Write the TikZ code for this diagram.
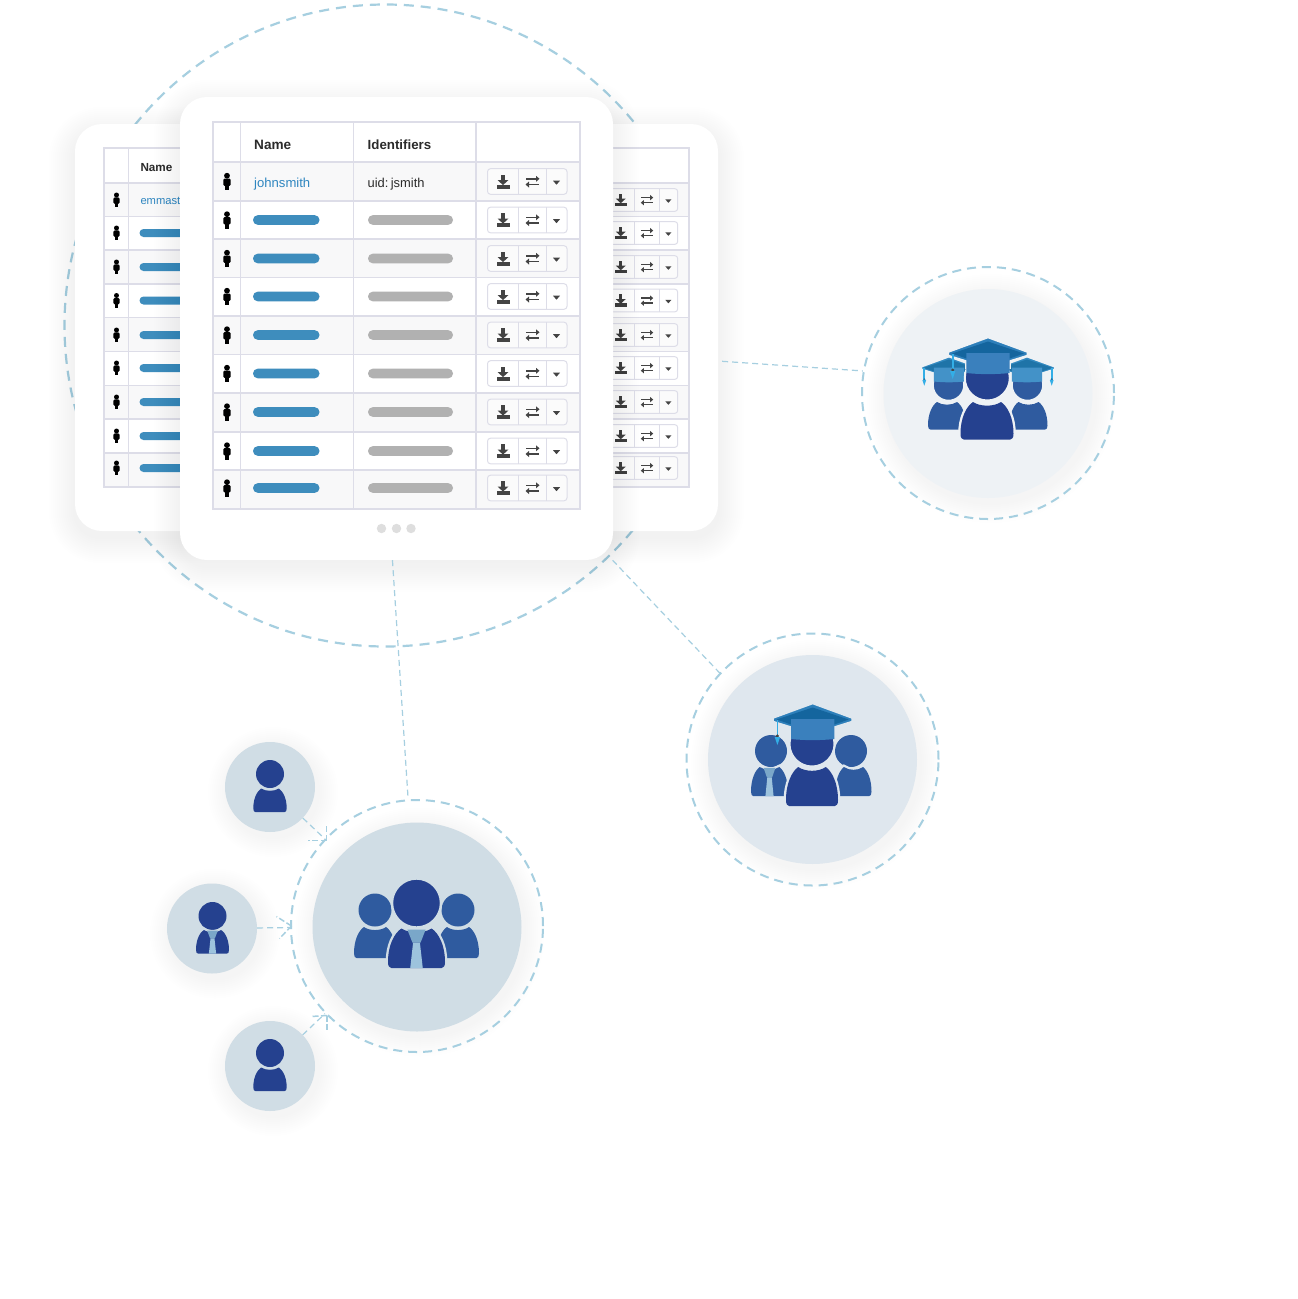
\documentclass[tikz,border=0pt]{standalone}
\usepackage{fontspec}
\setmainfont{Liberation Sans}
\definecolor{dashc}{HTML}{A6CFE0}
\definecolor{gridc}{HTML}{DDDDE8}
\definecolor{rowc}{HTML}{F8F8F9}
\definecolor{barb}{HTML}{3E8DBD}
\definecolor{barg}{HTML}{B1B1B1}
\definecolor{linkc}{HTML}{2F86C0}
\definecolor{txtc}{HTML}{2B2B2B}
\definecolor{iconc}{HTML}{444444}
\definecolor{navy}{HTML}{25418F}
\definecolor{midb}{HTML}{2F5B9F}
\definecolor{collarc}{HTML}{7AA7C9}
\definecolor{tiec}{HTML}{9DC3DD}
\definecolor{bga}{HTML}{D0DDE5}
\definecolor{bgb}{HTML}{DFE7EE}
\definecolor{bgc}{HTML}{EEF2F5}
\definecolor{hatlight}{HTML}{2D7FBA}
\definecolor{hatdark}{HTML}{14659E}
\definecolor{hatcap}{HTML}{3A80BD}
\definecolor{tasselc}{HTML}{33AEE6}
\definecolor{hatlightb}{HTML}{3389C0}
\definecolor{hatdarkb}{HTML}{1F74A8}
\definecolor{hatcapb}{HTML}{4392C8}
\tikzset{
  ringstyle/.style={circle,draw=dashc,line width=2pt,dash pattern=on 9pt off 6pt,minimum size=252pt,inner sep=0pt},
  bigringstyle/.style={circle,draw=dashc,line width=2.2pt,dash pattern=on 10pt off 7pt,minimum size=642pt,inner sep=0pt},
  discstyle/.style={circle,minimum size=209pt,inner sep=0pt},
  smalldisc/.style={circle,fill=bga,minimum size=90pt,inner sep=0pt},
  cardstyle/.style={rectangle,fill=white,rounded corners=27pt,inner sep=0pt},
  linkline/.style={draw=dashc,line width=1.2pt,dash pattern=on 6pt off 4pt},
  barbline/.style={draw=dashc,line width=1.5pt,dash pattern=on 6pt off 2.5pt},
  gridline/.style={draw=gridc,line width=1.1pt},
  headtxt/.style={anchor=base west,inner sep=0pt,text=txtc,font=\fontsize{13.6}{15}\selectfont\bfseries},
  celltxt/.style={anchor=base west,inner sep=0pt,text=txtc,font=\fontsize{12.9}{15}\selectfont},
}
% soft shadows
\newcommand{\softrect}[5]{%
  \foreach \sz in {2,4,...,26}{%
    \pgfmathsetmacro{\rr}{#5+\sz}%
    \fill[black,fill opacity=.0055,rounded corners=\rr pt] (#1-\sz,#2-\sz+9) rectangle (#3+\sz,#4+\sz+6);
  }}
\newcommand{\softdisc}[3]{%
  \foreach \sz in {2,4,...,20}{%
    \fill[black,fill opacity=.004] (#1+3,#2+5) circle ({#3+\sz});
  }}
% person body in a unit box: x -1..1, y 0..1, with a halo outside it
\newcommand{\psnbody}[2]{%
  \draw[#2,line width=4.6pt] (-1,.85) .. controls (-1,.42) and (-.78,.12) .. (-.53,0) .. controls (-.25,.13) and (.25,.13) .. (.53,0) .. controls (.78,.12) and (1,.42) .. (1,.85) -- (1,1) -- (-1,1) -- cycle;
  \fill[#1] (-1,.85) .. controls (-1,.42) and (-.78,.12) .. (-.53,0) .. controls (-.25,.13) and (.25,.13) .. (.53,0) .. controls (.78,.12) and (1,.42) .. (1,.85) .. controls (1,.95) and (.95,1) .. (.88,1) -- (-.88,1) .. controls (-.95,1) and (-1,.95) .. (-1,.85) -- cycle;}
\newcommand{\psntie}{%
  \fill[collarc] (-.32,.03) -- (.32,.03) -- (.14,.36) -- (-.14,.36) -- cycle;
  \fill[tiec] (-.12,.36) -- (.12,.36) -- (.22,1) -- (-.22,1) -- cycle;}
% icon at centre x, top y, half width, height
\newcommand{\bodyat}[6]{%
  \begin{scope}[shift={(#1,#2)},xscale=#3,yscale=#4]\psnbody{#5}{#6}\end{scope}}
\newcommand{\tiebodyat}[6]{%
  \begin{scope}[shift={(#1,#2)},xscale=#3,yscale=#4]\psnbody{#5}{#6}\psntie\end{scope}}
% graduate head and hat, origin at hat apex
\newcommand{\gradtop}[6]{%
  \fill[#4,draw=#5,line width=2pt] (-.7,40) circle (22.5);
  \fill[#1,draw=#5,line width=1.6pt] (0,-.5) -- (39.5,14) -- (39.5,17.5) -- (22,23) -- (22,30) -- (-22,30) -- (-22,23) -- (-39.7,17.5) -- (-39.7,14) -- cycle;
  \fill[#2] (0,3.5) -- (36,15.5) -- (0,28) -- (-36,15.5) -- cycle;
  \draw[tasselc,line width=1.7pt] (-35.3,16) -- (-35.3,31);
  \fill[#6] (-35.3,32) circle (1.7);
  \fill[tasselc] (-38,33) -- (-32.6,33) -- (-35.3,41) -- cycle;
  \fill[#3] (-21.7,15) -- (21.7,15) -- (21.7,35) .. controls (8,36.5) and (-8,36.5) .. (-21.7,35) -- cycle;}
% table pieces
\newcommand{\tblperson}[3]{%
  \begin{scope}[shift={(#1,#2)},scale=#3]
    \fill[black] (0,-5.8) circle (2.9);
    \fill[black,rounded corners=1.2pt] (-3.6,-3) rectangle (3.6,4.4);
    \fill[black] (-2,3) rectangle (2,8.6);
  \end{scope}}
\newcommand{\tblbuttons}[3]{%
  \begin{scope}[shift={(#1,#2)},scale=#3]
    \draw[gridc,line width=1pt,fill=white,fill opacity=.45,rounded corners=3pt] (-45,-12.8) rectangle (34.5,12.8);
    \draw[gridc,line width=1pt] (-14,-12.8) -- (-14,12.8) (14,-12.8) -- (14,12.8);
    \fill[iconc] (-31.2,-7) rectangle (-27.8,-1.5);
    \fill[iconc] (-35,-1.5) -- (-24,-1.5) -- (-29.5,3.6) -- cycle;
    \fill[iconc] (-36,3) -- (-23,3) -- (-23,7) -- (-36,7) -- cycle;
    \draw[iconc,line width=1.6pt] (-6.5,-2.7) -- (5,-2.7);
    \fill[iconc] (3.5,-5.7) -- (7,-2.7) -- (3.5,.3) -- cycle;
    \draw[iconc,line width=1.6pt] (-5,3) -- (6.5,3);
    \fill[iconc] (-3.5,0) -- (-7,3) -- (-3.5,6) -- cycle;
    \fill[iconc] (20.5,-.8) -- (27.5,-.8) -- (24,3.2) -- cycle;
  \end{scope}}
\begin{document}
\begin{tikzpicture}[x=1pt,y=-1pt]
\useasboundingbox (0,0) rectangle (1298,1299);
\fill[white] (0,0) rectangle (1298,1299);

% large dashed circle behind the cards
\node[bigringstyle] (bigring) at (385.5,325.5) {};

% back card
\softrect{75}{124}{718}{531}{25}
\node[cardstyle,minimum width=643pt,minimum height=407pt] (backcard) at (396.5,327.5) {};
\foreach \t/\b/\c [count=\n] in {183/216.5/200,216.5/250/233,250/284/267,284/317.5/300.5,317.5/351.5/335,351.5/385.5/368,385.5/419/402,419/453/436,453/487/468}{
  \ifodd\n \fill[rowc] (104,\t) rectangle (689,\b); \fi
  \draw[gridline] (104,\t) -- (689,\t);
  \draw[gridline] (104,\b) -- (689,\b);
  \tblperson{116.5}{\c}{.86}
  \tblbuttons{647}{\c}{.89}
  \ifnum\n>1 \fill[barb,rounded corners=4pt] (139.5,\c-4) rectangle (215,\c+4); \fi
}
\draw[gridline] (104,148) rectangle (689,487);
\draw[gridline] (128.5,148) -- (128.5,487);
\node[headtxt,font=\fontsize{11.7}{13}\selectfont\bfseries] (backname) at (140.3,171) {Name};
\node[celltxt,text=linkc,font=\fontsize{11.2}{13}\selectfont] (backlink) at (140.3,204) {emmast};

% front card
\softrect{180}{97}{613}{560}{27}
\node[cardstyle,minimum width=433pt,minimum height=463pt] (frontcard) at (396.5,328.5) {};
\foreach \t/\b/\c [count=\n] in {162/201/181.5,201/239/220,239/277.5/258.5,277.5/316/296.5,316/354.5/335,354.5/393/373.5,393/432/412,432/470/451,470/509/488}{
  \ifodd\n \fill[rowc] (213,\t) rectangle (580,\b); \fi
  \draw[gridline] (213,\t) -- (580,\t);
  \draw[gridline] (213,\b) -- (580,\b);
  \tblperson{227}{\c}{1}
  \tblbuttons{532.5}{\c}{1}
  \ifnum\n>1
    \fill[barb,rounded corners=4.7pt] (253,\c-4.8) rectangle (319.5,\c+4.8);
    \fill[barg,rounded corners=4.7pt] (368,\c-4.8) rectangle (453,\c+4.8);
  \fi
}
\draw[gridline] (213,122) rectangle (580,509);
\draw[gridline] (240.5,122) -- (240.5,509);
\draw[gridline] (353.5,122) -- (353.5,509);
\draw[gridline] (476,122) -- (476,509);
\node[headtxt] (fronthname) at (254,149) {Name};
\node[headtxt,font=\fontsize{13.3}{15}\selectfont\bfseries] (fronthid) at (367.5,149) {Identifiers};
\node[celltxt,text=linkc,font=\fontsize{13.1}{15}\selectfont] (frontlink) at (254,187) {johnsmith};
\node[celltxt] (frontuid) at (367.5,187) {uid:\kern-1.2pt\ jsmith};
\foreach \px/\nm in {381.5/dota,396.5/dotb,411/dotc}
  \node[circle,fill=black!13,minimum size=9.4pt,inner sep=0pt] (\nm) at (\px,528.5) {};

% group circles
\softdisc{988}{393.5}{104.5}
\node[discstyle,fill=bgc] (discc) at (988,393.5) {};
\node[ringstyle] (ringc) at (988,393) {};
\softdisc{812.5}{759.5}{104.5}
\node[discstyle,fill=bgb] (discb) at (812.5,759.5) {};
\node[ringstyle] (ringb) at (812.5,759.5) {};
\softdisc{417}{927}{104.5}
\node[discstyle,fill=bga] (disca) at (417,927) {};
\node[ringstyle] (ringa) at (417,926) {};
\softdisc{270}{787}{45}
\node[smalldisc] (smalla) at (270,787) {};
\softdisc{212}{928.5}{45}
\node[smalldisc] (smallb) at (212,928.5) {};
\softdisc{270}{1066}{45}
\node[smalldisc] (smallc) at (270,1066) {};

% connectors
\draw[linkline] (frontcard.269.8) -- (ringa.94);
\draw[linkline] ([xshift=4pt]backcard.-6.1) -- (ringc.170.4);
\draw[linkline] (frontcard.-47.5) -- (ringb.137.2);
\draw[linkline] (smalla) -- (ringa);
\draw[linkline] (smallb) -- (ringa);
\draw[linkline] (smallc) -- (ringa);
\coordinate (tipa) at (326.5,840.5);
\coordinate (tipb) at (291.5,926);
\coordinate (tipc) at (327,1015.5);
\draw[barbline] (tipa) -- +(-19,0);
\draw[barbline] (tipa) -- +(0,-16);
\draw[barbline] (tipb) -- +(-15,-9.5);
\draw[barbline] (tipb) -- +(-12,12.5);
\draw[barbline] (tipc) -- +(-16,1);
\draw[barbline] (tipc) -- +(0,16);

% icon: small people
\fill[navy] (270,774) circle (14);
\bodyat{270}{788.5}{16.7}{23.5}{navy}{bga}
\fill[navy] (270,1053) circle (14);
\bodyat{270}{1067.5}{16.7}{23.5}{navy}{bga}
\fill[navy] (212.5,916) circle (14);
\tiebodyat{212.5}{930}{16.5}{23.5}{navy}{bga}

% icon: staff group
\fill[midb] (375,910) circle (16.5);
\bodyat{375}{927}{21}{31}{midb}{bga}
\fill[midb] (458,910) circle (16.5);
\bodyat{458}{927}{21}{31}{midb}{bga}
\fill[navy,draw=bga,line width=2.4pt] (416.5,903) circle (24.5);
\tiebodyat{416.5}{928.5}{28.5}{39.5}{navy}{bga}

% icon: mixed group
\fill[midb] (771,751) circle (16);
\tiebodyat{769.5}{767}{18.5}{29}{midb}{bgb}
\fill[midb] (851,751) circle (16);
\bodyat{853.5}{767}{18}{29}{midb}{bgb}
\begin{scope}[shift={(812.7,704)}]
  \gradtop{hatlight}{hatdark}{hatcap}{navy}{bgb}{iconc}
\end{scope}
\bodyat{812}{767}{26}{39}{navy}{bgb}

% icon: graduates
\begin{scope}[shift={(949,357)},scale=.7]
  \gradtop{hatlightb}{hatdarkb}{hatcapb}{midb}{bgc}{hatdarkb}
\end{scope}
\bodyat{947}{402}{19}{27.5}{midb}{bgc}
\begin{scope}[shift={(1027,357)},xscale=-.7,yscale=.7]
  \gradtop{hatlightb}{hatdarkb}{hatcapb}{midb}{bgc}{hatdarkb}
\end{scope}
\bodyat{1028.5}{402}{19}{27.5}{midb}{bgc}
\begin{scope}[shift={(988,338)}]
  \gradtop{hatlight}{hatdark}{hatcap}{navy}{bgc}{iconc}
\end{scope}
\bodyat{987}{402}{26.5}{37.5}{navy}{bgc}
\end{tikzpicture}
\end{document}
